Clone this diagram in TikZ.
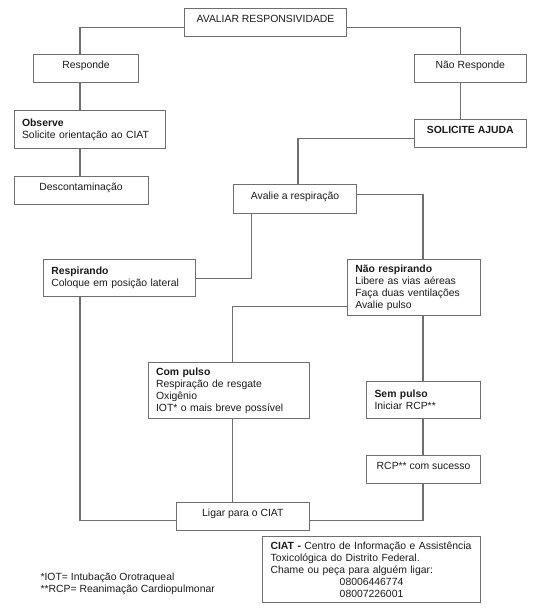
\documentclass[tikz,border=0pt]{standalone}
\usepackage{fontspec}
\setmainfont{Liberation Sans}
\usepackage{tikz}
\usetikzlibrary{positioning, calc}
\definecolor{ink}{RGB}{26,26,26}
\definecolor{rule}{RGB}{110,110,110}

\begin{document}
\begin{tikzpicture}[x=1pt, y=-1pt, line width=1.1pt, draw=rule,
                    cb/.style={rectangle,draw=rule,line width=1.1pt,anchor=north west,inner xsep=0pt,inner ysep=0pt,
                               text height=14pt,text depth=14pt,text=ink,font=\fontsize{10.4}{12}\selectfont},
                    lb/.style={rectangle,draw=rule,line width=1.1pt,anchor=north west,inner xsep=8pt,inner ysep=0pt,
                               align=left,text=ink,font=\fontsize{10.4}{12}\selectfont}]
  \useasboundingbox (0,0) rectangle (543,614);
  \coordinate (cl) at (80,0); \coordinate (cr) at (460.5,0);
  \coordinate (cm) at (298,0); \coordinate (cn) at (423,0);
  \coordinate (cp) at (232.7,0); \coordinate (cv) at (251.5,0);
  \node[cb, minimum width=162pt, minimum height=27.7pt] (top) at (184,8.3) {AVALIAR RESPONSIVIDADE};
  \node[cb, minimum width=105pt, minimum height=27.7pt] (resp) at (33,54.3) {Responde};
  \node[cb, minimum width=112.5pt, minimum height=28pt] (nresp) at (413.5,54) {Não Responde};
  \node[lb, text width=135.5pt, minimum height=38pt] (obs) at (13.5,110) {\textbf{Observe}\\Solicite orientação ao CIAT};
  \node[cb, minimum width=134pt, minimum height=27.7pt] (desc) at (13.5,175.7) {Descontaminação};
  \node[cb, minimum width=112.5pt, minimum height=28pt] (help) at (413.5,119.3) {\textbf{SOLICITE AJUDA}};
  \node[cb, minimum width=123pt, minimum height=28.7pt] (aval) at (233,184.3) {Avalie a respiração};
  \node[lb, text width=136.3pt, minimum height=36.4pt] (brth) at (42.7,259.3) {\textbf{Respirando}\\Coloque em posição lateral};
  \node[lb, text width=117.3pt, minimum height=56pt] (nbrth) at (346.7,259.3) {\textbf{Não respirando}\\Libere as vias aéreas\\Faça duas ventilações\\Avalie pulso};
  \node[lb, text width=145pt, minimum height=55.5pt] (wpul) at (147.5,362.2) {\textbf{Com pulso}\\Respiração de resgate\\Oxigênio\\IOT* o mais breve possível};
  \node[lb, text width=98pt, minimum height=37pt] (npul) at (366,380.7) {\textbf{Sem pulso}\\Iniciar RCP**};
  \node[cb, minimum width=114pt, minimum height=28.3pt] (rcp) at (366,455) {RCP** com sucesso};
  \node[cb, minimum width=133.4pt, minimum height=27.6pt] (call) at (175.6,501.7) {Ligar para o CIAT};
  \node[lb, text width=202pt, minimum height=66pt] (ciat) at (262,536) {\textbf{CIAT -} Centro de Informação e Assistência\\Toxicológica do Distrito Federal.\\Chame ou peça para alguém ligar:\\\makebox[\linewidth]{08006446774}\\\makebox[\linewidth]{08007226001}};
  \node[anchor=north west, inner sep=0pt, align=left, text=ink, font=\fontsize{10.4}{12}\selectfont] (note) at (40,572.5) {*IOT= Intubação Orotraqueal\\**RCP= Reanimação Cardiopulmonar};
  \draw ([yshift=-5pt]top.west) -| (resp.north -| cl);
  \draw ([yshift=-5pt]top.east) -| (nresp.north -| cr);
  \draw (resp.south -| cl) -- (obs.north -| cl);
  \draw (obs.south -| cl) -- (desc.north -| cl);
  \draw (nresp.south -| cr) -- (help.north -| cr);
  \draw ([yshift=-5pt]help.west) -| (aval.north -| cm);
  \draw ([yshift=4.5pt]aval.east) -| (nbrth.north -| cn);
  \draw (aval.south -| cv) |- (brth.east);
  \draw (brth.south -| cl) |- ([yshift=-4.4pt]call.west);
  \draw ([yshift=-18.7pt]nbrth.west) -| (wpul.north -| cp);
  \draw (nbrth.south -| cn) -- (npul.north -| cn);
  \draw (wpul.south -| cp) -- (call.north -| cp);
  \draw (npul.south -| cn) -- (rcp.north -| cn);
  \draw (rcp.south -| cn) |- ([yshift=-4.4pt]call.east);
\end{tikzpicture}
\end{document}
